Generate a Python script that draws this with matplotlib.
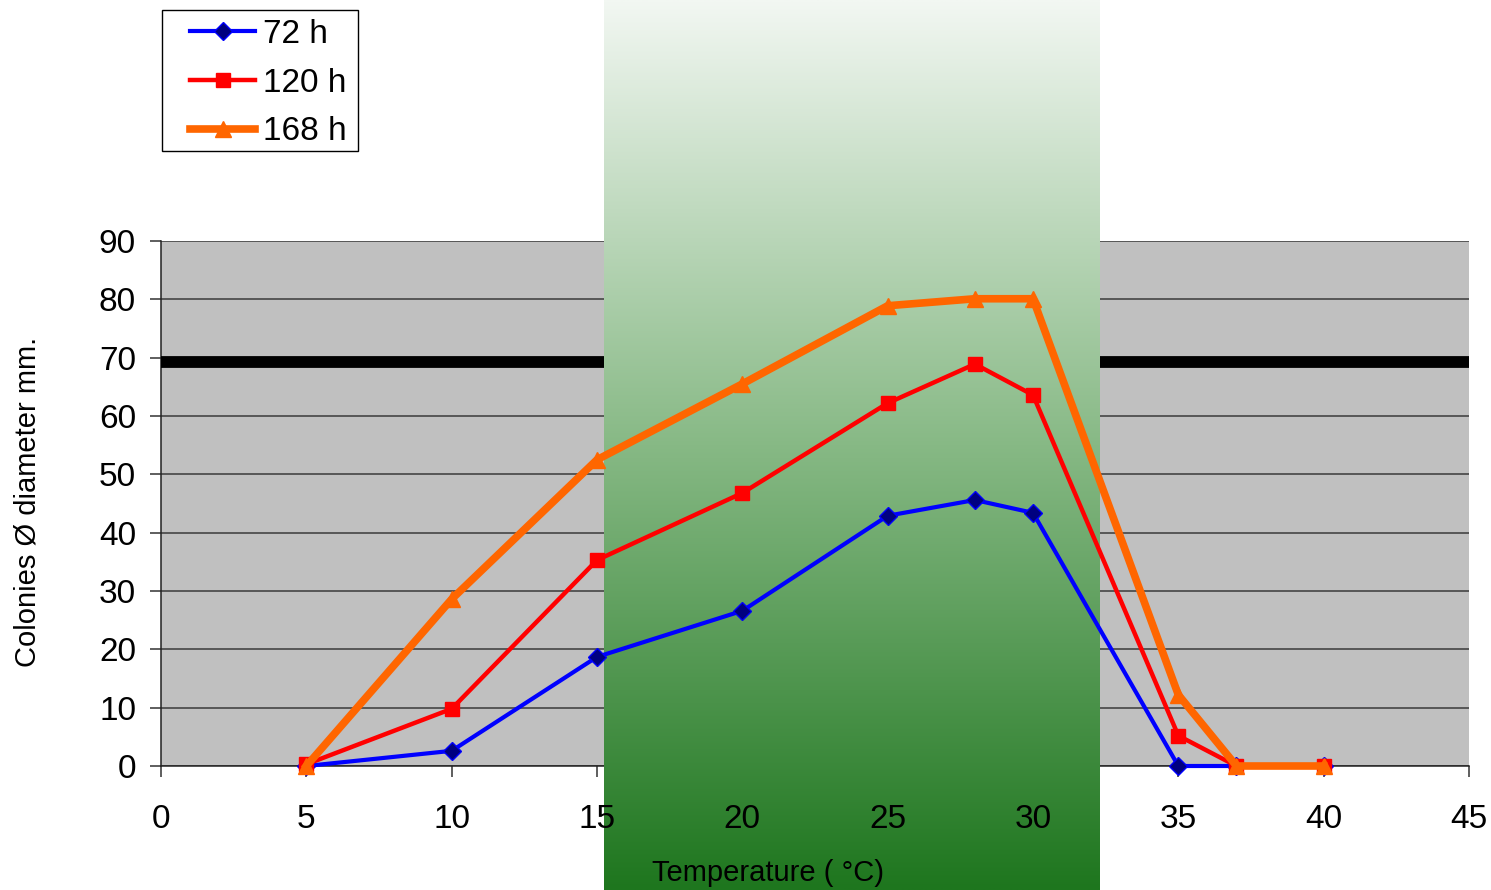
import numpy as np
import matplotlib
matplotlib.use("Agg")
import matplotlib.pyplot as plt
from matplotlib.patches import Rectangle

plt.rcParams['font.family'] = ['Liberation Sans', 'DejaVu Sans']

temps = [5, 10, 15, 20, 25, 28, 30, 35, 37, 40]
h72 = [0, 2.6, 18.7, 26.6, 42.9, 45.6, 43.4, 0, 0, 0]
h120 = [0.3, 9.8, 35.3, 46.8, 62.2, 68.9, 63.6, 5.2, 0, 0]
h168 = [0, 28.6, 52.5, 65.5, 78.9, 80.1, 80.1, 12.2, 0, 0]
series_labels = ["72 h", "120 h", "168 h"]
x_ticks = list(range(0, 50, 5))
y_ticks = list(range(0, 100, 10))
threshold = 69.2
band = (15.24, 32.30)

W, H = 1491, 890
fig = plt.figure(figsize=(W / 100, H / 100), dpi=100)
pos = [161 / W, 1 - 766 / H, (1469 - 161) / W, (766 - 241) / H]
ax = fig.add_axes(pos)
ax.set_facecolor('#C0C0C0')
ax.set_xlim(0, 45)
ax.set_ylim(0, 90)
ax.set_axisbelow(True)
ax.set_xticks(x_ticks)
ax.set_yticks(y_ticks)
ax.set_xticklabels([])
ax.set_yticklabels([])
ax.yaxis.grid(True, color='#3a3a3a', linewidth=1.1)
ax.tick_params(axis='both', length=8, width=1.1, color='#333333', direction='out')
for s in ['top', 'right']:
    ax.spines[s].set_visible(False)
for s in ['left', 'bottom']:
    ax.spines[s].set_color('#222222')
    ax.spines[s].set_linewidth(1.1)
    ax.spines[s].set_zorder(0.6)

ax.axhline(threshold, color='black', linewidth=8.5, zorder=0.8)

# gradient band spanning the whole figure height
inv = ax.transData.inverted()
y_top = inv.transform(fig.transFigure.transform((0, 1)))[1]
y_bot = inv.transform(fig.transFigure.transform((0, 0)))[1]
N = 256
t = np.linspace(0, 1, N)[:, None]
top = np.array([242, 247, 242]) / 255
mid = np.array([135, 185, 133]) / 255
bot = np.array([30, 118, 30]) / 255
grad = np.where(t < 0.5, top + (mid - top) * (t / 0.5), mid + (bot - mid) * ((t - 0.5) / 0.5))
grad = grad.reshape(N, 1, 3)
ax.imshow(grad, extent=[band[0], band[1], y_bot, y_top], aspect='auto',
          origin='upper', zorder=1, clip_on=False, interpolation='bilinear')
ax.set_xlim(0, 45)
ax.set_ylim(0, 90)

# overlay axes for data lines and tick labels (drawn above the band)
ax2 = fig.add_axes(pos, zorder=2)
ax2.patch.set_visible(False)
for s in ax2.spines.values():
    s.set_visible(False)
ax2.set_xlim(0, 45)
ax2.set_ylim(0, 90)
ax2.set_xticks(x_ticks)
ax2.set_yticks(y_ticks)
ax2.tick_params(axis='both', length=0, labelsize=24)
ax2.tick_params(axis='x', pad=27)
ax2.tick_params(axis='y', pad=18)

l1, = ax2.plot(temps, h72, color='#0000FF', linewidth=3, marker='D', markersize=9,
               markerfacecolor='#000080', markeredgecolor='#0000FF', markeredgewidth=1, zorder=3,
               clip_on=False)
l2, = ax2.plot(temps, h120, color='#FF0000', linewidth=3.2, marker='s', markersize=10,
               markerfacecolor='#FF0000', markeredgecolor='#FF0000', zorder=3.1, clip_on=False)
l3, = ax2.plot(temps, h168, color='#FF6600', linewidth=5.5, marker='^', markersize=12,
               markerfacecolor='#FF6600', markeredgecolor='#FF6600', zorder=3.2, clip_on=False)

fig.text(768 / W, 1 - 873 / H, "Temperature ( °C)", fontsize=21, ha='center', va='center', zorder=10)
fig.text(28 / W, 1 - 502 / H, "Colonies Ø diameter mm.", fontsize=21, rotation=90,
         ha='center', va='center')

fig.patches.append(Rectangle((162 / W, 1 - 151 / H), 196 / W, 141 / H, transform=fig.transFigure,
                             fill=False, edgecolor='black', linewidth=1.0, zorder=5))
leg = fig.legend([l1, l2, l3], series_labels, loc='upper left',
                 bbox_to_anchor=(190 / W, 1 - 19 / H), borderaxespad=0,
                 fontsize=24, frameon=False, handlelength=1.95, handletextpad=0.24,
                 labelspacing=0.53, borderpad=0)

fig.savefig('out.png', dpi=100)
